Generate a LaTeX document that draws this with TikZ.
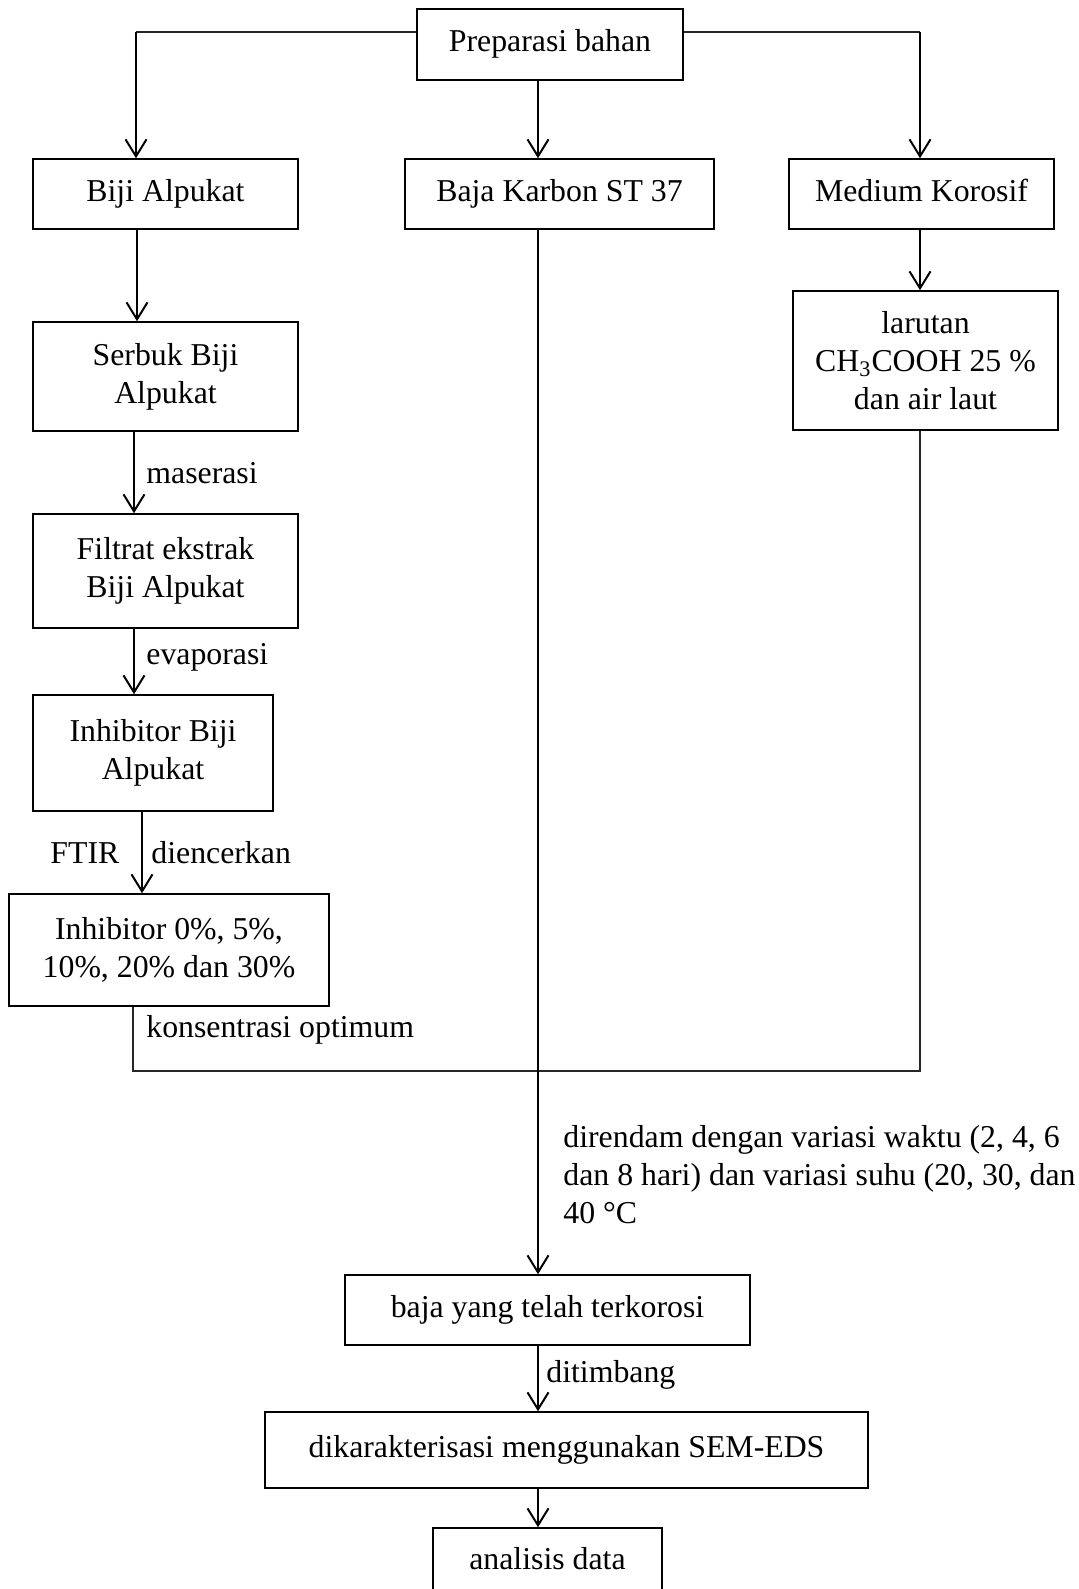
\documentclass[tikz,border=0pt]{standalone}
\usepackage{fontspec}
\setmainfont{Liberation Serif}
\usetikzlibrary{arrows.meta}
\begin{document}
\begin{tikzpicture}[x=0.5pt,y=-0.5pt,
  box/.style={draw, line width=0.75pt, inner sep=0pt, align=center, font=\fontsize{15.9}{19}\selectfont},
  sbox/.style={box, text height=11pt, text depth=3.5pt},
  arr/.style={line width=1pt, -{Straight Barb[length=8.5pt,width=10.5pt,line width=1pt]}},
  conn/.style={line width=0.6pt, draw=black!85},
  lbl/.style={inner sep=0pt, anchor=west, font=\fontsize{15.9}{19}\selectfont, align=left}]
\useasboundingbox (0,0) rectangle (1078,1589);
\clip (0,0) rectangle (1078,1589);
% boxes
\node[sbox, minimum width=133pt, minimum height=35.5pt] (prep) at (550,44.5) {Preparasi bahan};
\node[sbox, minimum width=132.5pt, minimum height=35pt] (biji) at (165.5,194) {Biji Alpukat};
\node[sbox, minimum width=154.5pt, minimum height=35pt] (baja) at (559.5,194) {Baja Karbon ST 37};
\node[sbox, minimum width=132.5pt, minimum height=35pt] (medium) at (921.5,194) {Medium Korosif};
\node[box, minimum width=132.5pt, minimum height=69.5pt] (larutan) at (925.5,360.5) {larutan\\CH\textsubscript{3}COOH 25 \%\\dan air laut};
\node[box, minimum width=132.5pt, minimum height=54.5pt] (serbuk) at (165.5,376.5) {Serbuk Biji\\Alpukat};
\node[box, minimum width=132.5pt, minimum height=57pt] (filtrat) at (165.5,571) {Filtrat ekstrak\\Biji Alpukat};
\node[box, minimum width=120pt, minimum height=58pt] (inhbiji) at (153,753) {Inhibitor Biji\\Alpukat};
\node[box, minimum width=160pt, minimum height=56pt] (inhconc) at (169,950) {Inhibitor 0\%, 5\%,\\10\%, 20\% dan 30\%};
\node[sbox, minimum width=202.5pt, minimum height=35pt] (terk) at (547.5,1310) {baja yang telah terkorosi};
\node[sbox, minimum width=301.5pt, minimum height=38pt] (sem) at (566.5,1450) {dikarakterisasi menggunakan SEM-EDS};
\node[sbox, minimum width=114.5pt, minimum height=34pt] (anal) at (547.5,1562) {analisis data};
% coordinates
\coordinate (tl) at (136,32);
\coordinate (tr) at (920,32);
\coordinate (cx) at (538,0);
\coordinate (xa) at (137,0);
\coordinate (xb) at (134,0);
\coordinate (xd) at (142,0);
\coordinate (lx) at (133,1071);
\coordinate (rx) at (920,1071);
% connectors
\draw[conn] (prep.west |- tl) -- (tl);
\draw[arr] (tl) -- (tl |- biji.north);
\draw[conn] (prep.east |- tr) -- (tr);
\draw[arr] (tr) -- (tr |- medium.north);
\draw[arr] (cx |- prep.south) -- (cx |- baja.north);
\draw[arr] (xa |- biji.south) -- (xa |- serbuk.north);
\draw[arr] (xb |- serbuk.south) -- (xb |- filtrat.north);
\draw[arr] (xb |- filtrat.south) -- (xb |- inhbiji.north);
\draw[arr] (xd |- inhbiji.south) -- (xd |- inhconc.north);
\draw[arr] (tr |- medium.south) -- (tr |- larutan.north);
\draw[conn] (lx |- inhconc.south) -- (lx) -- (rx) -- (rx |- larutan.south);
\draw[arr] (cx |- baja.south) -- (cx |- terk.north);
\draw[arr] (cx |- terk.south) -- (cx |- sem.north);
\draw[arr] (cx |- sem.south) -- (cx |- anal.north);
% labels
\node[lbl] (l1) at (146,473) {maserasi};
\node[lbl] (l2) at (146,657) {evaporasi};
\node[lbl] (l3) at (50,853) {FTIR};
\node[lbl] (l4) at (151,853) {diencerkan};
\node[lbl] (l5) at (146,1030) {konsentrasi optimum};
\node[lbl] (l6) at (546,1375) {ditimbang};
\node[lbl] (l7) at (563,1175) {direndam dengan variasi waktu (2, 4, 6\\dan 8 hari) dan variasi suhu (20, 30, dan\\40 °C};
\end{tikzpicture}
\end{document}
